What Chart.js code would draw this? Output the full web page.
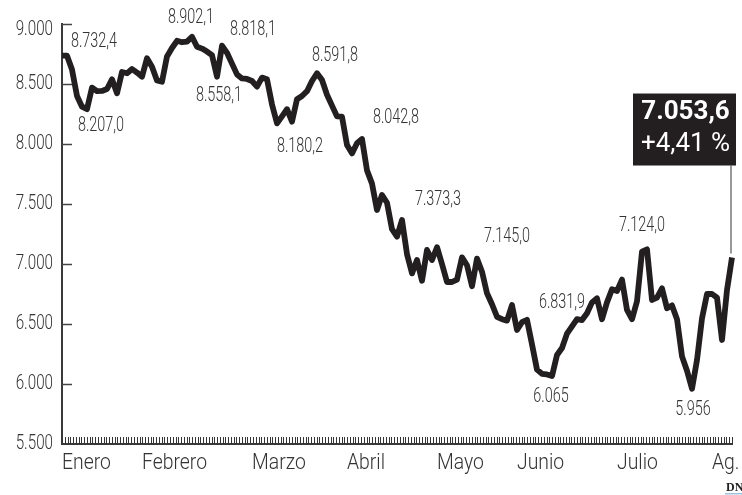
<!DOCTYPE html>
<html>
<head>
<meta charset="utf-8">
<script src="https://cdn.jsdelivr.net/npm/chart.js@4.4.1/dist/chart.umd.min.js"></script>
<style>
  html, body { margin: 0; padding: 0; background: #fff; }
  #wrap { position: relative; width: 742px; height: 495px; }
</style>
</head>
<body>
<div id="wrap"><canvas id="ibex" width="742" height="495"></canvas></div>
<script>
// closing values, one per session
const values = [
  8736, 8736, 8620, 8400, 8311, 8290, 8470, 8440, 8442, 8458,
  8539, 8422, 8600, 8589, 8625, 8595, 8561, 8714, 8644, 8530,
  8519, 8730, 8800, 8860, 8848, 8853, 8894, 8811, 8795, 8770,
  8740, 8561, 8819, 8760, 8670, 8580, 8546, 8542, 8525, 8478,
  8553, 8540, 8330, 8172, 8230, 8290, 8186, 8373, 8400, 8440,
  8525, 8590, 8533, 8410, 8320, 8230, 8228, 7992, 7922, 8006,
  8042, 7780, 7670, 7450, 7575, 7510, 7290, 7228, 7367, 7082,
  6922, 7033, 6860, 7117, 7033, 7140, 7000, 6850, 6850, 6870,
  7055, 6990, 6815, 7045, 6936, 6756, 6665, 6560, 6540, 6528,
  6658, 6450, 6515, 6535, 6330, 6120, 6085, 6080, 6067, 6242,
  6300, 6420, 6480, 6540, 6533, 6590, 6680, 6714, 6540, 6680,
  6789, 6775, 6870, 6617, 6540, 6690, 7103, 7122, 6700, 6720,
  6797, 6631, 6655, 6540, 6230, 6110, 5960, 6200, 6547, 6750,
  6750, 6720, 6367, 6783, 7054
];
const monthNames = ['Enero', 'Febrero', 'Marzo', 'Abril', 'Mayo', 'Junio', 'Julio', 'Ag.'];
const monthStart = [0, 16, 38, 57, 75, 91, 111, 130];
const yTicks = [5500, 6000, 6500, 7000, 7500, 8000, 8500, 9000];

// highlighted values and the session each one belongs to
const noteTexts = ['8.732,4', '8.207,0', '8.902,1', '8.818,1', '8.558,1', '8.180,2', '8.591,8',
                   '8.042,8', '7.373,3', '7.145,0', '6.831,9', '6.065', '7.124,0', '5.956'];
const noteIdx = [1, 5, 26, 32, 31, 43, 51, 60, 68, 75, 104, 98, 117, 126];
const lastValue = '7.053,6';
const lastChange = '+4,41 %';

// where each note sits relative to its point (px)
const noteOffsets = [[27, -14], [14, 17], [-1, -19], [31, -16], [2, 19], [23, 24], [18, -17],
                     [34, -21], [36, -20], [70, -10], [-20, -17], [-1, 21], [-5, -23], [1, 21]];

const labels = values.map((v, i) => {
  const m = monthStart.indexOf(i);
  return m >= 0 ? monthNames[m] : '';
});

function fmt(v) {
  return String(v).replace(/\B(?=(\d{3})+$)/g, '.');
}

// the print face is a condensed grotesque, so squeeze Roboto sideways
function squeezed(ctx, text, x, y, sx, align) {
  ctx.save();
  ctx.translate(x, y);
  ctx.scale(sx, 1);
  ctx.textAlign = align;
  ctx.fillText(text, 0, 0);
  ctx.restore();
}

const axisMarks = {
  id: 'axisMarks',
  beforeDatasetsDraw(chart) {
    const {ctx, chartArea} = chart;
    const xs = chart.scales.x, ys = chart.scales.y;
    ctx.save();
    ctx.strokeStyle = '#444';
    ctx.lineWidth = 1.5;
    yTicks.forEach(v => {
      if (v === yTicks[0]) return;
      const y = Math.round(ys.getPixelForValue(v)) + 0.5;
      ctx.beginPath();
      ctx.moveTo(chartArea.left, y);
      ctx.lineTo(chartArea.left + 10, y);
      ctx.stroke();
    });
    ctx.lineWidth = 1;
    ctx.strokeStyle = '#333';
    const n = 242;
    for (let k = 0; k <= n; k++) {
      const x = Math.round(xs.getPixelForValue(k * (values.length - 1) / n)) + 0.5;
      ctx.beginPath();
      ctx.moveTo(x, chartArea.bottom);
      ctx.lineTo(x, chartArea.bottom - 7);
      ctx.stroke();
    }

    // axis labels
    ctx.fillStyle = '#333';
    ctx.textBaseline = 'middle';
    ctx.font = '300 20px Roboto, sans-serif';
    yTicks.forEach(v => {
      const y = Math.max(ys.getPixelForValue(v), chartArea.top + 6);
      squeezed(ctx, fmt(v), chartArea.left - 9, y, 0.76, 'right');
    });
    ctx.font = '300 22px Roboto, sans-serif';
    monthStart.forEach((idx, m) => {
      squeezed(ctx, labels[idx], xs.getPixelForValue(idx), chartArea.bottom + 19, 0.88, 'left');
    });
    ctx.restore();
  }
};

const notes = {
  id: 'notes',
  afterDatasetsDraw(chart) {
    const {ctx} = chart;
    const pts = chart.getDatasetMeta(0).data;
    ctx.save();
    ctx.fillStyle = '#333';
    ctx.font = '300 20px Roboto, sans-serif';
    ctx.textBaseline = 'middle';
    noteTexts.forEach((t, i) => {
      const p = pts[noteIdx[i]];
      squeezed(ctx, t, p.x + noteOffsets[i][0], p.y + noteOffsets[i][1], 0.72, 'center');
    });

    // last value box
    const last = pts[pts.length - 1];
    const bx = last.x - 99, by = last.y - 164, bw = 103, bh = 72;
    ctx.strokeStyle = '#555';
    ctx.lineWidth = 1.2;
    ctx.beginPath();
    ctx.moveTo(last.x - 1, by + bh);
    ctx.lineTo(last.x - 1, last.y - 4);
    ctx.stroke();
    ctx.fillStyle = '#231f20';
    ctx.fillRect(bx, by, bw, bh);
    ctx.fillStyle = '#fff';
    ctx.textAlign = 'center';
    ctx.font = 'bold 26px Roboto, "Liberation Sans", sans-serif';
    ctx.fillText(lastValue, bx + bw / 2 + 1, by + 19);
    ctx.font = '26px Roboto, "Liberation Sans", sans-serif';
    ctx.fillText(lastChange, bx + bw / 2 + 1, by + 51);

    // source mark
    ctx.fillStyle = '#222';
    ctx.font = 'bold 12px "Liberation Serif", "DejaVu Serif", serif';
    ctx.textAlign = 'left';
    ctx.textBaseline = 'alphabetic';
    ctx.fillText('DN', 726, 491);
    ctx.fillStyle = '#9cc3e0';
    ctx.fillRect(725, 493, 17, 1.5);
    ctx.restore();
  }
};

new Chart(document.getElementById('ibex'), {
  type: 'line',
  data: {
    labels: labels,
    datasets: [{
      data: values,
      borderColor: '#231f20',
      borderWidth: 5.8,
      borderJoinStyle: 'round',
      pointRadius: 0,
      tension: 0,
      fill: false,
      clip: false
    }]
  },
  options: {
    responsive: false,
    animation: false,
    layout: { padding: { top: 24, right: 10, bottom: 0, left: 0 } },
    plugins: { legend: { display: false }, tooltip: { enabled: false } },
    scales: {
      x: {
        offset: false,
        grid: { drawOnChartArea: false, drawTicks: false },
        border: { display: true, color: '#3a3a3a', width: 2 },
        afterFit(scale) { scale.height = 51; },
        ticks: { display: false, autoSkip: false, maxRotation: 0 }
      },
      y: {
        min: 5500,
        max: 9000,
        afterFit(scale) { scale.width = 62; },
        afterBuildTicks(scale) { scale.ticks = yTicks.map(v => ({ value: v })); },
        grid: { drawOnChartArea: false, drawTicks: false },
        border: { display: true, color: '#3a3a3a', width: 2 },
        ticks: { display: false }
      }
    }
  },
  plugins: [axisMarks, notes]
});
</script>
</body>
</html>
